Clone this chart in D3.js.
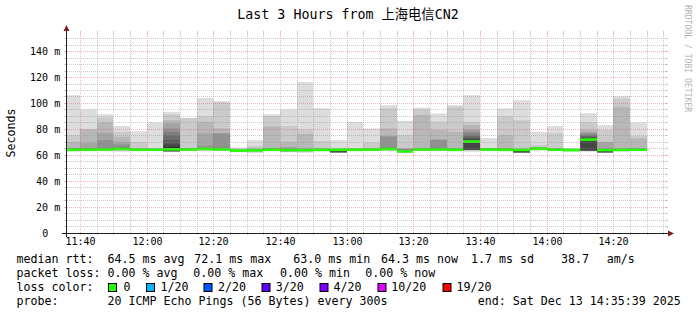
<!DOCTYPE html>
<html><head><meta charset="utf-8">
<script src="https://cdn.jsdelivr.net/npm/d3@7"></script>
<style>
html,body{margin:0;padding:0;background:#fff;}
svg{display:block;}
text{font-family:"DejaVu Sans Mono","Noto Sans CJK SC",monospace;fill:#000;}
</style></head><body>
<svg id="chart" width="697" height="315"></svg>
<script>
// ---------------- data ----------------
const titleText = "Last 3 Hours from 上海电信CN2";
const day = "2025-12-13";
const viewStart = "11:35:39";
const viewEnd = "14:35:39";
const slotStarts = ["11:35","11:40","11:45","11:50","11:55","12:00","12:05","12:10","12:15","12:20",
  "12:25","12:30","12:35","12:40","12:45","12:50","12:55","13:00","13:05","13:10",
  "13:15","13:20","13:25","13:30","13:35","13:40","13:45","13:50","13:55","14:00",
  "14:05","14:10","14:15","14:20","14:25"];
const medians = [64.3,64.4,64.5,64.9,64.3,64.3,64.6,64.5,65.0,64.6,
  63.6,63.8,64.3,64.0,64.0,64.2,64.2,64.3,64.4,64.9,
  63.0,64.5,64.6,64.3,70.6,64.5,64.3,64.1,65.2,64.4,
  64.0,72.1,64.0,64.2,64.3];
// 20 sorted ping rtts (ms) per 5-minute slot
const pings = [
 [62.7,63.3,63.6,63.8,63.9,64.0,64.1,64.2,64.2,64.3,64.4,64.6,64.8,65.0,65.1,65.2,65.3,70.4,75.6,106.4],
 [62.9,63.4,63.7,63.9,64.0,64.1,64.2,64.3,64.3,64.4,64.5,64.7,64.9,65.1,65.3,65.5,69.6,79.9,80.2,95.4],
 [63.0,63.4,63.7,63.9,64.0,64.1,64.2,64.3,64.4,64.5,64.6,64.8,65.0,65.2,65.3,71.7,77.3,85.3,89.2,91.7],
 [62.7,63.4,63.8,64.1,64.3,64.5,64.6,64.7,64.8,64.9,65.0,65.1,65.2,65.3,66.3,68.4,70.4,74.3,78.1,82.5],
 [63.0,63.4,63.6,63.8,63.9,64.0,64.1,64.2,64.3,64.3,64.4,64.5,64.6,64.7,64.8,64.9,65.1,65.4,70.4,78.6],
 [63.1,63.5,63.7,63.8,63.9,64.0,64.1,64.2,64.3,64.3,64.4,64.5,64.6,64.7,64.8,64.9,65.0,65.2,65.6,85.3],
 [62.7,62.9,63.0,63.0,63.1,63.1,63.2,63.2,63.3,64.8,66.5,68.4,71.7,75.6,78.1,80.7,84.6,87.1,91.5,93.5],
 [63.0,63.4,63.7,63.9,64.0,64.1,64.2,64.3,64.4,64.5,64.6,64.7,64.8,64.9,65.0,65.2,65.4,65.6,88.7,88.9],
 [63.2,63.6,64.0,64.3,64.5,64.6,64.7,64.8,64.9,65.0,65.1,65.2,65.3,65.4,65.5,67.3,76.9,85.8,90.2,104.3],
 [63.1,63.5,63.8,64.0,64.1,64.2,64.3,64.4,64.5,64.6,64.7,64.9,65.1,65.3,65.5,76.8,77.0,80.7,100.8,101.8],
 [62.3,62.8,63.0,63.1,63.2,63.3,63.4,63.5,63.5,63.6,63.7,63.8,63.9,64.0,64.1,64.2,64.4,64.6,65.0,66.0],
 [61.6,62.6,62.9,63.1,63.3,63.4,63.5,63.6,63.7,63.8,63.9,64.0,64.2,64.4,64.6,64.8,65.0,65.6,67.1,71.7],
 [63.0,63.4,63.6,63.8,63.9,64.0,64.1,64.2,64.3,64.3,64.4,64.6,64.8,65.0,65.1,65.2,65.5,82.2,90.2,91.7],
 [62.4,62.5,62.6,63.2,63.5,63.7,63.8,63.9,63.9,64.0,64.1,64.3,64.5,64.8,65.0,65.3,66.5,70.4,82.5,95.4],
 [61.9,62.8,63.1,63.3,63.5,63.6,63.7,63.8,63.9,64.0,64.1,64.3,64.5,64.7,64.9,65.1,65.5,76.3,79.8,116.7],
 [62.9,63.3,63.5,63.7,63.8,63.9,64.0,64.1,64.1,64.2,64.3,64.4,64.5,64.6,64.8,65.0,65.2,65.5,71.0,96.3],
 [62.2,62.3,62.3,62.3,62.3,62.4,62.4,62.4,62.4,64.0,64.4,64.5,64.6,64.7,64.8,64.9,65.0,65.2,65.4,71.7],
 [62.9,63.3,63.5,63.7,63.8,63.9,64.0,64.1,64.2,64.3,64.4,64.5,64.6,64.7,64.8,64.9,65.0,65.2,65.5,85.8],
 [63.1,63.4,63.6,63.8,63.9,64.0,64.1,64.2,64.3,64.4,64.5,64.6,64.7,64.8,64.9,65.0,65.2,65.5,69.9,80.7],
 [63.2,63.6,63.9,64.1,64.3,64.5,64.6,64.7,64.8,64.9,65.0,65.2,65.4,65.7,66.0,74.5,74.8,80.7,96.1,98.7],
 [61.8,62.1,62.3,62.5,62.6,62.7,62.8,62.9,62.9,63.0,63.2,63.5,63.8,64.1,64.4,64.7,65.0,65.8,75.6,86.6],
 [63.1,63.5,63.7,63.9,64.0,64.1,64.2,64.3,64.4,64.5,64.6,64.7,64.8,64.9,65.0,65.2,65.5,91.0,95.2,96.8],
 [63.1,63.5,63.8,64.0,64.1,64.2,64.3,64.4,64.5,64.6,64.7,64.9,65.1,65.3,65.6,71.9,72.3,79.5,86.0,92.3],
 [62.9,63.3,63.6,63.8,63.9,64.0,64.1,64.2,64.3,64.3,64.4,64.5,64.6,64.8,65.0,65.2,65.5,78.1,97.4,98.7],
 [62.7,63.9,64.0,64.0,64.1,64.1,64.1,64.2,64.2,70.3,71.0,72.0,73.5,75.0,77.0,78.5,80.0,83.3,85.8,106.4],
 [63.1,63.5,63.7,63.9,64.0,64.1,64.2,64.3,64.4,64.5,64.6,64.7,64.8,64.9,65.0,65.1,65.2,65.3,65.5,73.3],
 [62.9,63.3,63.5,63.7,63.9,64.0,64.1,64.2,64.3,64.3,64.4,64.5,64.6,64.8,65.0,65.2,65.5,75.6,90.2,96.1],
 [62.1,62.2,62.2,62.2,62.3,62.3,62.3,62.3,62.4,63.9,64.3,64.4,64.5,64.6,64.7,64.8,64.9,65.5,87.1,102.5],
 [63.6,64.0,64.3,64.5,64.7,64.8,64.9,65.0,65.1,65.2,65.3,65.4,65.5,65.6,65.7,65.8,66.0,66.3,68.0,78.1],
 [63.0,63.4,63.6,63.8,63.9,64.0,64.1,64.2,64.3,64.4,64.5,64.6,64.7,64.8,64.9,65.0,65.2,65.5,77.0,82.5],
 [62.9,63.2,63.4,63.5,63.6,63.7,63.8,63.9,63.9,64.0,64.1,64.2,64.3,64.4,64.5,64.6,64.7,64.8,65.0,65.7],
 [62.7,63.4,63.5,63.5,63.6,63.6,63.7,63.7,63.8,71.8,72.4,73.0,74.0,75.0,76.0,77.0,78.0,79.5,85.5,92.5],
 [62.1,62.2,62.2,62.3,62.3,62.3,62.4,62.4,62.4,63.8,64.2,64.3,64.5,64.7,65.0,65.4,70.2,70.4,79.4,83.3],
 [62.8,63.2,63.5,63.7,63.8,63.9,64.0,64.1,64.2,64.2,64.3,64.4,64.5,64.7,64.9,65.1,65.5,97.4,103.8,105.6],
 [63.0,63.4,63.6,63.8,63.9,64.0,64.1,64.2,64.3,64.3,64.4,64.5,64.6,64.7,64.9,65.1,65.5,73.0,75.0,85.3]
];
const yTicks = [0,20,40,60,80,100,120,140];
const xTickLabels = ["11:40","12:00","12:20","12:40","13:00","13:20","13:40","14:00","14:20"];
const yLabel = "Seconds";
const lossLabels = ["0","1/20","2/20","3/20","4/20","10/20","19/20"];
const lossColors = ["#26ff00","#00b8ff","#0059ff","#5e00ff","#7e00ff","#dd00ff","#ff0000"];
const medianStats = ["64.5 ms avg","72.1 ms max","63.0 ms min","64.3 ms now","1.7 ms sd","38.7","am/s"];
const lossStats = ["0.00 % avg","0.00 % max","0.00 % min","0.00 % now"];
const probeText = "20 ICMP Echo Pings (56 Bytes) every 300s";
const endText = "end: Sat Dec 13 14:35:39 2025";
const watermark = "RRDTOOL / TOBI OETIKER";

// ---------------- layout ----------------
const X0 = 66, X1 = 666, Y0 = 233, Y1 = 33;
const yMax = 154.4;
const parse = d3.timeParse("%Y-%m-%d %H:%M:%S");
const x = d3.scaleTime().domain([parse(day+" "+viewStart), parse(day+" "+viewEnd)]).range([X0, X1]);
const y = d3.scaleLinear().domain([0, yMax]).range([Y0, Y1]);

const svg = d3.select("#chart");
svg.append("rect").attr("width",697).attr("height",315).attr("fill","#fff");

svg.append("defs").append("clipPath").attr("id","plot")
  .append("rect").attr("x",X0).attr("y",Y1).attr("width",X1-X0).attr("height",Y0-Y1);

const plot = svg.append("g").attr("clip-path","url(#plot)");

// smoke
const greys = d3.range(1,11).map(i => { const c = Math.floor(190/10*(10-i))+50; return `rgb(${c},${c},${c})`; });
slotStarts.forEach((s,k) => {
  const t0 = parse(day+" "+s+":00");
  const t1 = d3.timeMinute.offset(t0,5);
  const xa = Math.floor(x(t0)), xb = Math.floor(x(t1));
  const p = pings[k];
  for (let i=1;i<=10;i++){
    const lo = p[i-1], hi = p[20-i];
    plot.append("rect").attr("x",xa).attr("width",xb-xa)
      .attr("y",y(hi)).attr("height",Math.max(0,y(lo)-y(hi)))
      .attr("fill",greys[i-1]);
  }
});
// median line
slotStarts.forEach((s,k) => {
  const t0 = parse(day+" "+s+":00");
  const t1 = d3.timeMinute.offset(t0,5);
  const xa = Math.floor(x(t0)), xb = Math.floor(x(t1));
  plot.append("rect").attr("x",xa).attr("width",xb-xa)
    .attr("y",y(medians[k])-1.3).attr("height",2.6).attr("fill",lossColors[0]);
});

// grid
const grid = svg.append("g");
const minorC = "rgba(143,143,143,0.45)", majorC = "rgba(222,79,79,0.42)";
const hvals = y.ticks(30).filter(v => v>0);
hvals.forEach(v => {
  const yy = Math.floor(y(v))+0.5;
  const major = v % 20 === 0;
  const c = major ? majorC : minorC;
  grid.append("line").attr("x1",X0+1).attr("x2",X1+1).attr("y1",yy).attr("y2",yy)
    .attr("stroke",c).attr("stroke-dasharray","1,1");
  grid.append("line").attr("x1",X0-2).attr("x2",X0+1).attr("y1",yy).attr("y2",yy).attr("stroke",c);
  grid.append("line").attr("x1",X1-1).attr("x2",X1+2).attr("y1",yy).attr("y2",yy).attr("stroke",c);
});
const minorT = x.ticks(d3.timeMinute.every(5));
minorT.forEach(t => {
  const xx = Math.floor(x(t))+0.5;
  if (xx <= X0+1 || xx >= X1) return;
  const major = t.getMinutes() % 20 === 0;
  const c = major ? majorC : minorC;
  grid.append("line").attr("x1",xx).attr("x2",xx).attr("y1",Y1+1).attr("y2",Y0-1)
    .attr("stroke",c).attr("stroke-dasharray","1,1");
  grid.append("line").attr("x1",xx).attr("x2",xx).attr("y1",Y1-2).attr("y2",Y1+1).attr("stroke",c);
  grid.append("line").attr("x1",xx).attr("x2",xx).attr("y1",Y0-1).attr("y2",Y0+2).attr("stroke",c);
});

// axes
const axisC = "#1f1f1f", arrowC = "#801f1f";
svg.append("line").attr("x1",X0-4).attr("x2",X1+4).attr("y1",Y0+0.5).attr("y2",Y0+0.5).attr("stroke",axisC);
svg.append("line").attr("x1",X0+0.5).attr("x2",X0+0.5).attr("y1",Y0+4).attr("y2",Y1-4).attr("stroke",axisC);
svg.append("polygon").attr("points",`${X1+2},${Y0-2.5} ${X1+2},${Y0+3.5} ${X1+8},${Y0+0.5}`).attr("fill",arrowC);
svg.append("polygon").attr("points",`${X0-2.5},${Y1-2} ${X0+3.5},${Y1-2} ${X0+0.5},${Y1-8}`).attr("fill",arrowC);

// tick labels
const tickFont = "10px";
xTickLabels.forEach(lbl => {
  const t = parse(day+" "+lbl+":00");
  svg.append("text").attr("x",Math.floor(x(t))+0.5).attr("y",245).attr("text-anchor","middle")
    .style("font-size",tickFont).text(lbl);
});
yTicks.forEach(v => {
  const yy = Math.floor(y(v))+0.5;
  svg.append("text").attr("x", v===0 ? 48.2 : 60.2).attr("y",yy+3.6).attr("text-anchor","end")
    .style("font-size",tickFont).text(v===0 ? "0" : v+" m");
});

// title & labels
svg.append("text").attr("x",348).attr("y",19).attr("text-anchor","middle")
  .style("font-size","13.3px").text(titleText);
svg.append("text").attr("transform","translate(15,133) rotate(-90)").attr("text-anchor","middle")
  .style("font-size","11.6px").text(yLabel);
svg.append("text").attr("transform","translate(684.5,5) rotate(90)")
  .style("font-size","8.1px").style("fill","#b3b3b3").text(watermark);

// legend
const lf = "11.63px";
const leg = (tx, xx, yy) => svg.append("text").attr("x",xx).attr("y",yy).style("font-size",lf)
  .attr("xml:space","preserve").text(tx);
const r1 = 263, r2 = 277, r3 = 291, r4 = 305;
leg("median rtt:", 16.4, r1);
const mX = [107.6,194.2,293.3,380.9,471.1,560.9,606.7];
medianStats.forEach((s,i) => leg(s, mX[i], r1));
leg("packet loss:", 16.4, r2);
const lX = [107.6,193.3,280,365.3];
lossStats.forEach((s,i) => leg(s, lX[i], r2));
leg("loss color:", 16.4, r3);
const boxX = [108,146,203.5,261.5,319.5,377.5,442.5];
const lblX = [123.6,160.5,218,275.8,333.5,391.3,456.6];
lossLabels.forEach((s,i) => {
  svg.append("rect").attr("x",boxX[i]+0.5).attr("y",283.5).attr("width",8).attr("height",8)
    .attr("fill",lossColors[i]).attr("stroke","#000").attr("stroke-width",1);
  leg(s, lblX[i], r3);
});
leg("probe:", 16.4, r4);
leg(probeText, 107.6, r4);
leg(endText, 477.8, r4);
</script>
</body></html>
